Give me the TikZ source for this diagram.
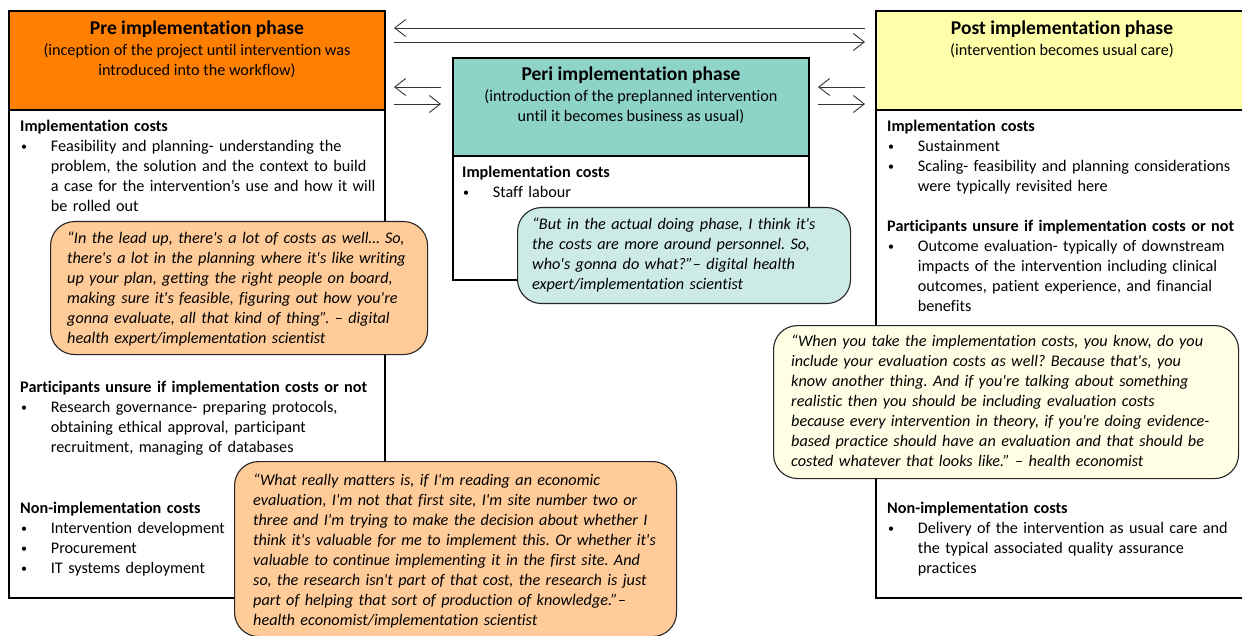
\documentclass[tikz,border=0pt]{standalone}
\usepackage{fontspec}
\setmainfont{Carlito}[Ligatures={TeXOff,NoCommon}]
\usetikzlibrary{arrows.meta}
\definecolor{preH}{RGB}{255,128,0}
\definecolor{periH}{RGB}{142,211,199}
\definecolor{postH}{RGB}{255,255,170}
\definecolor{preQ}{RGB}{255,204,153}
\definecolor{periQ}{RGB}{205,235,230}
\definecolor{postQ}{RGB}{255,255,230}
\newcommand\bodyfont{\fontsize{16.2pt}{20pt}\selectfont\frenchspacing}
\newcommand\ttlfont{\fontsize{19.5pt}{20pt}\selectfont\bfseries}
\newcommand\bulmark{\raisebox{1pt}{\fontsize{12pt}{12pt}\selectfont\textbullet}}
\newcommand\bul{\par\noindent\hangindent=30.7pt\hangafter=1\makebox[30.7pt][l]{\hspace{1pt}\bulmark}}
\begin{document}
\begin{tikzpicture}[x=1pt,y=-1pt,
  box/.style={draw=black, line width=1.2pt, anchor=north west, inner sep=0pt, outer sep=0pt},
  quote/.style={draw=black!85, line width=1.1pt, rounded corners=24pt, anchor=north west, inner sep=0pt},
  txt/.style={anchor=north west, inner sep=0pt, font=\bodyfont, text width=480pt, align=left},
  qtxt/.style={txt, font=\bodyfont\itshape},
  ttl/.style={anchor=base, inner sep=0pt, font=\ttlfont},
  sub/.style={anchor=north, inner sep=0pt, font=\bodyfont, align=center},
  arr/.style={draw=black!80, line width=0.9pt, -{Straight Barb[length=11pt,width=17pt,line width=0.9pt]}}]
\useasboundingbox (0,0) rectangle (1242,636);
\clip (0,0) rectangle (1242,636);

% phase boxes
\node[box, minimum width=376pt, minimum height=488pt] (prebody) at (9,110) {};
\node[box, fill=preH, minimum width=376pt, minimum height=99pt] (prehead) at (9,11) {};
\node[box, minimum width=356pt, minimum height=124pt] (peribody) at (453,156) {};
\node[box, fill=periH, minimum width=356pt, minimum height=98pt] (perihead) at (453,58) {};
\node[box, minimum width=380pt, minimum height=488pt] (postbody) at (876,110) {};
\node[box, fill=postH, minimum width=380pt, minimum height=99pt] (posthead) at (876,11) {};

% headers
\node[ttl] (pret) at (197,35) {Pre implementation phase};
\node[sub] (pres) at (197,41) {\strut(inception of the project until intervention was\\introduced into the workflow)};
\node[ttl] (perit) at (631,81) {Peri implementation phase};
\node[sub] (peris) at (631,87) {\strut(introduction of the preplanned intervention\\until it becomes business as usual)};
\node[ttl] (postt) at (1062,35) {Post implementation phase};
\node[sub] (posts) at (1062,41) {\strut(intervention becomes usual care)};

% left body
\node[txt] (l1) at (20,117) {\noindent\strut\textbf{Implementation costs}
\bul Feasibility and planning- understanding the\newline problem, the solution and the context to build\newline a case for the intervention’s use and how it will\newline be rolled out\par};
\node[txt] (l2) at (20,378) {\noindent\strut\textbf{Participants unsure if implementation costs or not}
\bul Research governance- preparing protocols,\newline obtaining ethical approval, participant\newline recruitment, managing of databases\par};
\node[txt] (l3) at (20,499) {\noindent\strut\textbf{Non-implementation costs}
\bul Intervention development
\bul Procurement
\bul IT systems deployment\par};

% middle body
\node[txt] (m1) at (462,163) {\noindent\strut\textbf{Implementation costs}
\bul Staff labour\par};

% right body
\node[txt] (r1) at (887,117) {\noindent\strut\textbf{Implementation costs}
\bul Sustainment
\bul Scaling- feasibility and planning considerations\newline were typically revisited here\par};
\node[txt] (r2) at (887,217) {\noindent\strut\textbf{Participants unsure if implementation costs or not}
\bul Outcome evaluation- typically of downstream\newline impacts of the intervention including clinical\newline outcomes, patient experience, and financial\newline benefits\par};
\node[txt] (r3) at (887,499) {\noindent\strut\textbf{Non-implementation costs}
\bul Delivery of the intervention as usual care and\newline the typical associated quality assurance\newline practices\par};

% quotes
\node[quote, fill=preQ, minimum width=377pt, minimum height=133pt] (q1) at (50,221) {};
\node[qtxt] (q1t) at (67,229) {\noindent\strut “In the lead up, there's a lot of costs as well… So,\newline there's a lot in the planning where it's like writing\newline up your plan, getting the right people on board,\newline making sure it's feasible, figuring out how you're\newline gonna evaluate, all that kind of thing”. – digital\newline health expert/implementation scientist\par};

\node[quote, fill=periQ, minimum width=333pt, minimum height=96pt] (q2) at (517,207) {};
\node[qtxt] (q2t) at (532,215) {\noindent\strut “But in the actual doing phase, I think it's\newline the costs are more around personnel. So,\newline who's gonna do what?”– digital health\newline expert/implementation scientist\par};

\node[quote, fill=postQ, minimum width=465pt, minimum height=153pt] (q3) at (773,325) {};
\node[qtxt] (q3t) at (791,332) {\noindent\strut “When you take the implementation costs, you know, do you\newline include your evaluation costs as well? Because that's, you\newline know another thing. And if you're talking about something\newline realistic then you should be including evaluation costs\newline because every intervention in theory, if you're doing evidence-\newline based practice should have an evaluation and that should be\newline costed whatever that looks like.” – health economist\par};

\node[quote, fill=preQ, minimum width=442pt, minimum height=175pt] (q4) at (234,461) {};
\node[qtxt] (q4t) at (253,471) {\noindent\strut “What really matters is, if I'm reading an economic\newline evaluation, I'm not that first site, I'm site number two or\newline three and I'm trying to make the decision about whether I\newline think it's valuable for me to implement this. Or whether it's\newline valuable to continue implementing it in the first site. And\newline so, the research isn't part of that cost, the research is just\newline part of helping that sort of production of knowledge.”–\newline health economist/implementation scientist\par};

% arrows
\coordinate (tA) at (865,28); \coordinate (tB) at (394,28);
\coordinate (tC) at (394,42); \coordinate (tD) at (865,42);
\coordinate (lA) at (441,87); \coordinate (lB) at (394,87);
\coordinate (lC) at (394,104); \coordinate (lD) at (441,104);
\coordinate (rA) at (865,87); \coordinate (rB) at (818,87);
\coordinate (rC) at (818,104); \coordinate (rD) at (865,104);
\draw[arr] (tA) -- (tB);
\draw[arr] (tC) -- (tD);
\draw[arr] (lA) -- (lB);
\draw[arr] (lC) -- (lD);
\draw[arr] (rA) -- (rB);
\draw[arr] (rC) -- (rD);
\end{tikzpicture}
\end{document}
